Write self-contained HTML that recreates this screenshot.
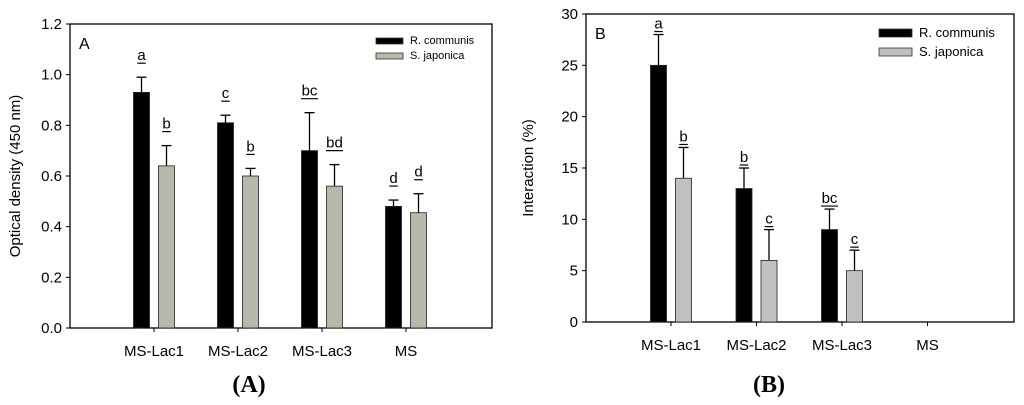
<!DOCTYPE html>
<html><head><meta charset="utf-8"><style>
body{margin:0;background:#fff;}
svg{display:block;font-family:"Liberation Sans",Arial,sans-serif;}
</style></head><body>
<svg id="c" width="1024" height="405"></svg>
<script>
const categories=["MS-Lac1","MS-Lac2","MS-Lac3","MS"];
const aRic=[0.93,0.81,0.70,0.48];
const aRicErr=[0.06,0.03,0.15,0.025];
const aSja=[0.64,0.60,0.56,0.455];
const aSjaErr=[0.08,0.03,0.085,0.075];
const aRicLbl=["a","c","bc","d"];
const aSjaLbl=["b","b","bd","d"];
const aTicks=[0,0.2,0.4,0.6,0.8,1.0,1.2];
const bRic=[25,13,9,0];
const bRicErr=[3,2,2,0];
const bSja=[14,6,5,0];
const bSjaErr=[3,3,2,0];
const bRicLbl=["a","b","bc",""];
const bSjaLbl=["b","c","c",""];
const bTicks=[0,5,10,15,20,25,30];
const NS="http://www.w3.org/2000/svg";
const svg=document.getElementById('c');
function mk(t,a,p){const e=document.createElementNS(NS,t);for(const k in a)e.setAttribute(k,a[k]);(p||svg).appendChild(e);return e;}
function panel(o){
  const g=mk('g',{});
  
  
  const y=v=>o.b-(v-0)/(o.max)*(o.b-o.t);
  const x=i=>o.x0+i*o.dx;
  const ax=mk('rect',{x:o.l,y:o.t,width:o.r-o.l,height:o.b-o.t,fill:'none',stroke:'#000','stroke-width':1.3},g);
  
  
  o.ticks.forEach(v=>{
    mk('line',{x1:o.l-4,x2:o.l,y1:y(v),y2:y(v),stroke:'#000'},g);
    const t=mk('text',{x:o.l-8,y:y(v)+5,'text-anchor':'end','font-size':15},g);
    t.textContent=o.fmt(v);
    
    
  });
  categories.forEach((c,i)=>{
    mk('line',{x1:x(i),x2:x(i),y1:o.b,y2:o.b+4,stroke:'#000'},g);
    const t=mk('text',{x:x(i),y:o.b+28,'text-anchor':'middle','font-size':15},g);
    t.textContent=c;
    
    
  });
  const series=[[o.r1,o.r1e,o.r1l,'#000',-12.5,'bar-r-communis'],[o.s1,o.s1e,o.s1l,o.gray,12.5,'bar-s-japonica']];
  series.forEach(s=>{
    s[0].forEach((v,i)=>{
      if(v<=0)return;
      const cx=x(i)+s[4];
      const top=y(v+s[1][i]);
      mk('line',{x1:cx,x2:cx,y1:top,y2:y(v),stroke:'#000','stroke-width':1.3},g);
      mk('line',{x1:cx-5,x2:cx+5,y1:top,y2:top,stroke:'#000','stroke-width':1.3},g);
      const r=mk('rect',{x:cx-8,y:y(v),width:16,height:o.b-y(v),fill:s[3],stroke:'#222','stroke-width':0.8},g);
      
      
      if(s[2][i]){
        const ly=top-o.lgap;
        const t=mk('text',{x:cx,y:ly,'text-anchor':'middle','font-size':15},g);
        t.textContent=s[2][i];
        
        
        const w=s[2][i].length*8.5;
        mk('line',{x1:cx-w/2,x2:cx+w/2,y1:ly+3,y2:ly+3,stroke:'#000','stroke-width':1.2},g);
      }
    });
  });
  const pl=mk('text',{x:o.l+9,y:o.t+25,'font-size':16},g);
  pl.textContent=o.letter;
  
  
  const yt=mk('text',{transform:`translate(${o.ytx},${(o.t+o.b)/2}) rotate(-90)`,'text-anchor':'middle','font-size':15},g);
  yt.textContent=o.ytitle;
  
  
  [['#000','R. communis',0],[o.gray,'S. japonica',1]].forEach(L=>{
    const ly=o.legY+L[2]*o.legDy;
    const r=mk('rect',{x:o.legX,y:ly,width:o.legW,height:o.legH,fill:L[0],stroke:'#333','stroke-width':0.8},g);
    
    
    const t=mk('text',{x:o.legX+o.legW+7,y:ly+o.legH,'font-size':o.legF},g);
    t.textContent=L[1];
    
    
  });
  const cap=mk('text',{x:o.capX,y:392,'text-anchor':'middle','font-size':24,'font-weight':'bold','font-family':'"Liberation Serif",serif'},g);
  cap.textContent=o.cap;
  
  
}
panel({name:'chart-a',l:70,r:492,t:24,b:328,max:1.2,x0:154,dx:84,ticks:aTicks,fmt:v=>v.toFixed(1),
 r1:aRic,r1e:aRicErr,r1l:aRicLbl,s1:aSja,s1e:aSjaErr,s1l:aSjaLbl,gray:'#b9b9ab',lgap:17,letter:'A',
 ytitle:'Optical density (450 nm)',ytx:20,legX:376,legY:38,legDy:15,legW:27,legH:6,legF:11,capX:249,cap:'(A)'});
panel({name:'chart-b',l:586,r:1014,t:14,b:322,max:30,x0:671,dx:85.5,ticks:bTicks,fmt:v=>String(v),
 r1:bRic,r1e:bRicErr,r1l:bRicLbl,s1:bSja,s1e:bSjaErr,s1l:bSjaLbl,gray:'#c0c0c0',lgap:6,letter:'B',
 ytitle:'Interaction (%)',ytx:533,legX:879,legY:29,legDy:19,legW:33,legH:8,legF:13,capX:769,cap:'(B)'});
</script>
</body></html>
